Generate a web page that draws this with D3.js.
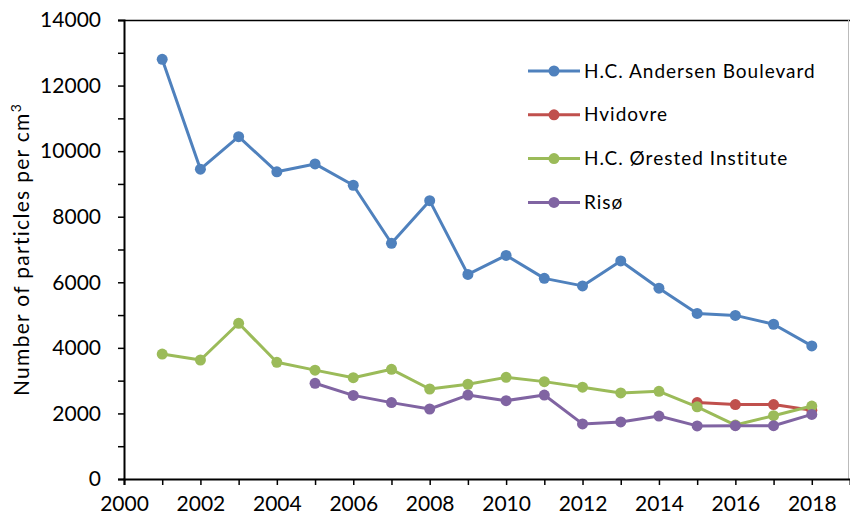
<!DOCTYPE html>
<html>
<head>
<meta charset="utf-8">
<script src="https://cdn.jsdelivr.net/npm/d3@7"></script>
<style>
  body { margin: 0; background: #fff; }
  text { font-family: Lato, "Open Sans", sans-serif; fill: #000; }
</style>
</head>
<body>
<svg id="chart" width="850" height="520"></svg>
<script>
// Yearly mean particle counts
const years = d3.range(2001, 2019);
const andersen = [12800, 9450, 10440, 9370, 9610, 8960, 7190, 8490, 6240, 6820, 6120, 5890, 6650, 5820, 5050, 4990, 4720, 4060];
const hvidovreYears = [2015, 2016, 2017, 2018];
const hvidovre = [2330, 2270, 2270, 2100];
const orsted = [3810, 3630, 4750, 3560, 3320, 3090, 3345, 2745, 2890, 3100, 2970, 2800, 2625, 2675, 2200, 1645, 1930, 2225];
const risoYears = d3.range(2005, 2019);
const riso = [2920, 2550, 2330, 2135, 2560, 2390, 2560, 1680, 1740, 1920, 1620, 1625, 1625, 1970];

const seriesNames = ["H.C. Andersen Boulevard", "Hvidovre", "H.C. \u00D8rested Institute", "Ris\u00F8"];
const seriesColors = ["#4F81BD", "#C0504D", "#9BBB59", "#8064A2"];
const xTickYears = d3.range(2000, 2019, 2);
const yTickValues = d3.range(0, 14001, 2000);

const series = [
  {name: seriesNames[0], color: seriesColors[0], pts: years.map((yr, i) => ({yr, v: andersen[i]}))},
  {name: seriesNames[1], color: seriesColors[1], pts: hvidovreYears.map((yr, i) => ({yr, v: hvidovre[i]}))},
  {name: seriesNames[2], color: seriesColors[2], pts: years.map((yr, i) => ({yr, v: orsted[i]}))},
  {name: seriesNames[3], color: seriesColors[3], pts: risoYears.map((yr, i) => ({yr, v: riso[i]}))}
];

// Plot area
let margin = {top: 20, right: 0, bottom: 41, left: 124},
    width = 850 - margin.left - margin.right,
    height = 520 - margin.top - margin.bottom;

const svg = d3.select("#chart");
const g = svg.append("g").attr("transform", "translate(" + margin.left + "," + margin.top + ")");

let x = d3.scaleLinear().domain([2000, 2019]).range([0, width]);
let y = d3.scaleLinear().domain([0, 14000]).range([height, 0]);

// frame: top line and faint right edge
g.append("line").attr("x1", 0).attr("x2", width).attr("y1", 0.5).attr("y2", 0.5)
  .attr("stroke", "#000").attr("stroke-width", 1.5);
g.append("line").attr("x1", width - 1.5).attr("x2", width - 1.5).attr("y1", 0).attr("y2", height)
  .attr("stroke", "#bbb").attr("stroke-width", 1);

// x axis: a tick every year, labels on even years
const xAxis = g.append("g")
  .attr("transform", "translate(0," + height + ")")
  .call(d3.axisBottom(x).tickValues(d3.range(2000, 2019)).tickSize(6).tickPadding(11)
    .tickFormat(d => xTickYears.includes(d) ? d : ""));
xAxis.selectAll("text").style("font-size", "21px");

// y axis: a tick every 1000, labels every 2000
const yAxis = g.append("g")
  .call(d3.axisLeft(y).tickValues(d3.range(0, 14001, 1000)).tickSize(6).tickPadding(17)
    .tickFormat(d => yTickValues.includes(d) ? d : ""));
yAxis.selectAll("text").style("font-size", "21px");

[xAxis, yAxis].forEach(a => {
  a.select(".domain").attr("stroke", "#000").attr("stroke-width", 2);
  a.selectAll(".tick line").attr("stroke", "#000").attr("stroke-width", 1.5);
});

// y axis title
const yTitle = svg.append("text")
  .attr("transform", "translate(29," + (margin.top + height / 2) + ") rotate(-90)")
  .attr("text-anchor", "middle")
  .style("font-size", "21px").style("letter-spacing", "1.3px");
yTitle.append("tspan").text("Number  of particles per cm");
yTitle.append("tspan").attr("baseline-shift", "super").style("font-size", "14px").text("3");

// lines and markers
const line = d3.line().x(d => x(d.yr)).y(d => y(d.v));
series.forEach(s => {
  g.append("path").datum(s.pts)
    .attr("d", line).attr("fill", "none")
    .attr("stroke", s.color).attr("stroke-width", 3).attr("stroke-linejoin", "round");
  g.selectAll(null).data(s.pts).enter().append("circle")
    .attr("cx", d => x(d.yr)).attr("cy", d => y(d.v)).attr("r", 5.5)
    .attr("fill", s.color);
});

// legend
const legend = svg.append("g").attr("transform", "translate(528,71)");
series.forEach((s, i) => {
  const row = legend.append("g").attr("transform", "translate(0," + (i * 43.8) + ")");
  row.append("line").attr("x1", 0).attr("x2", 52).attr("y1", 0).attr("y2", 0)
    .attr("stroke", s.color).attr("stroke-width", 3);
  row.append("circle").attr("cx", 26).attr("cy", 0).attr("r", 5.5).attr("fill", s.color);
  row.append("text").attr("x", 56).attr("y", 0).attr("dy", "0.35em")
    .style("font-size", "19px").style("letter-spacing", "1px").text(s.name);
});
</script>
</body>
</html>
